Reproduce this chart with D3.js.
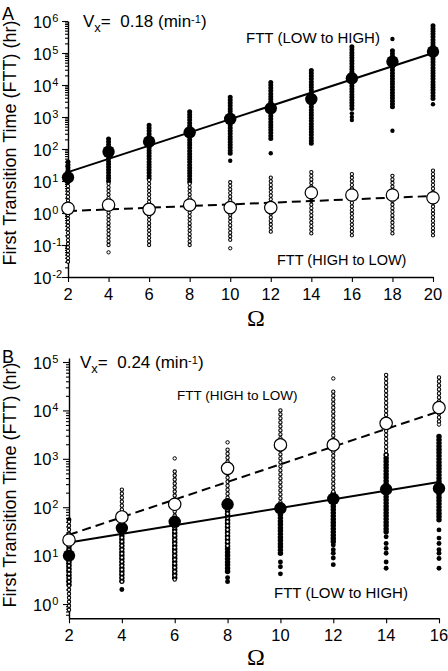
<!DOCTYPE html>
<html><head><meta charset="utf-8">
<script src="https://cdn.jsdelivr.net/npm/d3@7"></script>
<style>
body{margin:0;background:#fff}
svg{display:block}
text{font-family:"Liberation Sans",Arial,Helvetica,sans-serif;fill:#000}
</style>
</head><body>
<svg id="c" width="448" height="671"></svg>
<script>
// ---------------- Panel A data (Vx = 0.18 min^-1) ----------------
const omegaA = [2,4,6,8,10,12,14,16,18,20];
const meanLowHighA = [13, 82, 170, 331, 870, 1870, 3630, 16200, 53700, 110000];
const meanHighLowA = [1.4, 1.78, 1.3, 1.78, 1.47, 1.47, 4.3, 3.65, 3.65, 3.0];
const fitLowHighA = [19, 100000];      // fitted line values at Ω = 2 and Ω = 20
const fitHighLowA = [1.15, 3.4];
const rangeLowHighA = [[9.5,40],[10,240],[12,560],[9.5,1660],[74,4900],[214,14500],[151,29500],[1860,158000],[2090,141000],[3800,750000]];
const extraLowHighA = [[10,43],[12,74],[16,1300],[16,1000],[16,800],[18,275000],[18,370],[20,2500]];
const rangeHighLowA = [[0.03,8.7],[0.1,8.5],[0.1,10.7],[0.1,8.9],[0.145,10.7],[0.26,15.5],[0.23,20.4],[0.2,17.4],[0.23,15.5],[0.2,21.9]];
const extraHighLowA = [[4,0.059],[10,0.079]];
const xTicksA = [2,4,6,8,10,12,14,16,18,20];
const yExpA = [-2,-1,0,1,2,3,4,5,6];

// ---------------- Panel B data (Vx = 0.24 min^-1) ----------------
const omegaB = [2,4,6,8,10,12,14,16];
const meanLowHighB = [10, 37, 50, 115, 95, 148, 234, 245];
const meanHighLowB = [21, 63, 115, 635, 1940, 1940, 5400, 11400];
const fitLowHighB = [18.6, 331];       // at Ω = 2 and Ω = 16
const fitHighLowB = [26.9, 9550];
const rangeLowHighB = [[2.5,16],[3,40],[3.5,50],[4.7,100],[11.2,126],[19.5,209],[31,1200],[55,3100]];
const extraLowHighB = [[2,55],[4,2.0],[8,3.5],[8,2.9],[10,7.4],[10,5.9],[10,4.2],[12,16.6],[12,13.2],[12,11.2],[12,8.9],[12,6.5],[14,24.5],[14,17.8],[14,14.1],[14,11.2],[14,7.4],[14,5.5],[16,34],[16,23],[16,17.8],[16,13.2],[16,11.2],[16,8.7],[16,5.5]];
const rangeHighLowB = [[0.76,50],[2.9,240],[3.2,590],[16,1660],[126,10200],[209,28800],[1200,58900],[5900,53700]];
const extraHighLowB = [[6,1020],[8,2190],[12,45700],[16,5100]];
const xTicksB = [2,4,6,8,10,12,14,16];
const yExpB = [0,1,2,3,4,5];

const svg = d3.select("#c");

function drawPanel(c) {
  const g = svg.append("g");
  const x = d3.scaleLinear().domain(c.xDomain).range(c.xRange);
  const y = d3.scaleLog().domain(c.yDomain).range(c.yRange);

  // axes
  const minors = [];
  for (let e = Math.floor(Math.log10(c.yDomain[0])); e <= Math.ceil(Math.log10(c.yDomain[1])); e++) {
    for (let m = 2; m <= 9; m++) {
      const v = m * Math.pow(10, e);
      if (v >= c.yDomain[0] && v <= c.yDomain[1]) minors.push(v);
    }
  }
  const yMajor = c.yExp.map(e => Math.pow(10, e));
  const ax = g.append("g").attr("transform", `translate(${c.xRange[0]},0)`)
    .call(d3.axisLeft(y).tickValues(yMajor).tickSize(6).tickSizeOuter(0).tickFormat(""));
  ax.select(".domain").attr("stroke-width", 1.4);
  g.append("g").attr("transform", `translate(${c.xRange[0]},0)`)
    .call(d3.axisLeft(y).tickValues(minors).tickSize(3).tickSizeOuter(0).tickFormat(""))
    .select(".domain").remove();
  const bx = g.append("g").attr("transform", `translate(0,${c.yRange[0]})`)
    .call(d3.axisBottom(x).tickValues(c.xTicks).tickSize(5).tickSizeOuter(0).tickFormat(""));
  bx.select(".domain").attr("stroke-width", 1.4);
  g.selectAll("g.tick line").attr("stroke-width", 1.1);

  // y tick labels
  c.yExp.forEach(e => {
    const t = g.append("text").attr("x", 33).attr("y", y(Math.pow(10, e)) + 6.5).attr("font-size", 16.5);
    t.append("tspan").text("10");
    t.append("tspan").attr("dx", 1).attr("dy", -5.5).attr("font-size", 11).text(String(e));
  });
  // x tick labels
  g.selectAll(null).data(c.xTicks).join("text")
    .attr("x", d => x(d)).attr("y", c.yRange[0] + 23).attr("text-anchor", "middle")
    .attr("font-size", 16.5).text(d => d);

  // dense filled columns (LOW to HIGH)
  g.selectAll(null).data(c.rangeLH.map((r, i) => ({o: c.omega[i], lo: r[0], hi: r[1]}))).join("line")
    .attr("x1", d => x(d.o)).attr("x2", d => x(d.o)).attr("y1", d => y(d.lo)).attr("y2", d => y(d.hi))
    .attr("stroke", "#000").attr("stroke-width", c.fw).attr("stroke-linecap", "round")
    .attr("stroke-dasharray", `0 ${c.fgap}`);
  g.selectAll(null).data(c.extraLH).join("circle")
    .attr("cx", d => x(d[0])).attr("cy", d => y(d[1])).attr("r", c.fw / 2 - 0.3).attr("fill", "#000");

  // open columns (HIGH to LOW)
  const od = c.rangeHL.map((r, i) => ({o: c.omega[i], lo: r[0], hi: r[1]}));
  [[c.ow, "#000"], [c.ow - 2.1, "#fff"]].forEach(([w, col]) => {
    g.selectAll(null).data(od).join("line")
      .attr("x1", d => x(d.o)).attr("x2", d => x(d.o)).attr("y1", d => y(d.lo)).attr("y2", d => y(d.hi))
      .attr("stroke", col).attr("stroke-width", w).attr("stroke-linecap", "round")
      .attr("stroke-dasharray", `0 ${c.ogap}`);
  });
  g.selectAll(null).data(c.extraHL).join("circle")
    .attr("cx", d => x(d[0])).attr("cy", d => y(d[1])).attr("r", c.ow / 2 - 0.5)
    .attr("fill", "#fff").attr("stroke", "#000").attr("stroke-width", 1);

  // fitted lines
  const xEnds = [c.xDomain[0], c.xDomain[1]];
  const line = d3.line().x(d => x(d[0])).y(d => y(d[1]));
  g.append("path").attr("d", line(xEnds.map((o, i) => [o, c.fitLH[i]])))
    .attr("fill", "none").attr("stroke", "#000").attr("stroke-width", 2);
  g.append("path").attr("d", line(xEnds.map((o, i) => [o, c.fitHL[i]])))
    .attr("fill", "none").attr("stroke", "#000").attr("stroke-width", 2).attr("stroke-dasharray", "9 5");

  // mean markers
  g.selectAll(null).data(c.meanLH.map((v, i) => [c.omega[i], v])).join("circle")
    .attr("cx", d => x(d[0])).attr("cy", d => y(d[1])).attr("r", 6.2).attr("fill", "#000");
  g.selectAll(null).data(c.meanHL.map((v, i) => [c.omega[i], v])).join("circle")
    .attr("cx", d => x(d[0])).attr("cy", d => y(d[1])).attr("r", 6.2)
    .attr("fill", "#fff").attr("stroke", "#000").attr("stroke-width", 1.2);

  // texts
  g.append("text").attr("x", 2).attr("y", c.letterY).attr("font-size", 18).text(c.letter);
  const v = g.append("text").attr("x", c.vx[0]).attr("y", c.vx[1]).attr("font-size", 17);
  v.append("tspan").text("V");
  v.append("tspan").attr("dy", 5).attr("font-size", 13).text("x");
  v.append("tspan").attr("dy", -5).text("=\u00a0\u00a0" + c.vLabel + " (min");
  v.append("tspan").attr("dy", -4).attr("font-size", 11).text("-1");
  v.append("tspan").attr("dy", 4).text(")");
  g.append("text").attr("x", c.lhPos[0]).attr("y", c.lhPos[1]).attr("font-size", c.lhPos[2]).text("FTT (LOW to HIGH)");
  g.append("text").attr("x", c.hlPos[0]).attr("y", c.hlPos[1]).attr("font-size", c.hlPos[2]).text("FTT (HIGH to LOW)");
  g.append("text").attr("x", 256).attr("y", c.omegaY).attr("text-anchor", "middle")
    .style("font-family", '"Liberation Serif","Times New Roman",serif').attr("font-size", 24).text("Ω");
  g.append("text").attr("transform", `translate(16,${c.titleY}) rotate(-90)`).attr("text-anchor", "middle")
    .attr("font-size", 18).text("First Transition Time (FTT) (hr)");
}

drawPanel({
  xDomain: [2, 20], xRange: [68, 433], yDomain: [0.01, 1e6], yRange: [277, 21],
  xTicks: xTicksA, yExp: yExpA, omega: omegaA,
  meanLH: meanLowHighA, meanHL: meanHighLowA, fitLH: fitLowHighA, fitHL: fitHighLowA,
  rangeLH: rangeLowHighA, extraLH: extraLowHighA, rangeHL: rangeHighLowA, extraHL: extraHighLowA,
  fw: 5, fgap: 2.8, ow: 4.3, ogap: 3.6,
  letter: "A", letterY: 20, vx: [83, 26.7], vLabel: "0.18",
  lhPos: [246, 42.5, 15], hlPos: [277, 265, 14.5], omegaY: 326, titleY: 143
});
drawPanel({
  xDomain: [2, 16], xRange: [69, 439], yDomain: [0.507, 121000], yRange: [618.3, 358],
  xTicks: xTicksB, yExp: yExpB, omega: omegaB,
  meanLH: meanLowHighB, meanHL: meanHighLowB, fitLH: fitLowHighB, fitHL: fitHighLowB,
  rangeLH: rangeLowHighB, extraLH: extraLowHighB, rangeHL: rangeHighLowB, extraHL: extraHighLowB,
  fw: 5.5, fgap: 3.2, ow: 4.4, ogap: 4,
  letter: "B", letterY: 363, vx: [80, 367.7], vLabel: "0.24",
  lhPos: [274, 597.5, 15], hlPos: [177, 400, 13.5], omegaY: 665, titleY: 485
});
</script>
</body></html>
